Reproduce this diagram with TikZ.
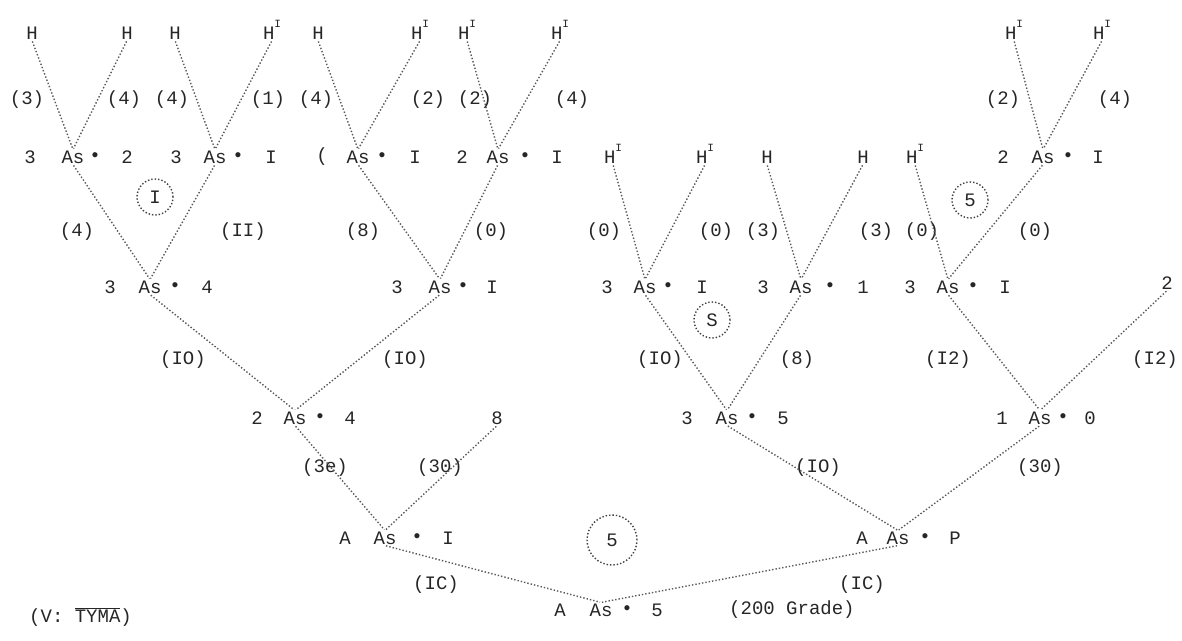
\documentclass[tikz,border=0pt]{standalone}
\usepackage{fontspec}
\setmainfont{Liberation Mono}
\newcommand\HI{H\raisebox{0.6em}{\fontsize{11}{11}\selectfont I}}
\newcommand\tnode[8]{%
  \node[t] (#1p) at (#3,#2) {#4};
  \node[t] (#1) at (#5,#2) {As};
  \node[t] (#1d) at (#6,#2) {•};
  \node[t] (#1s) at (#7,#2) {#8};}
\begin{document}
\begin{tikzpicture}[x=1pt,y=-1pt,
  t/.style={inner sep=1pt, text=black!85, font=\fontsize{19}{21}\selectfont},
  ln/.style={draw=black!65, dotted, line width=1.4pt, shorten <=1pt, shorten >=1pt},
  circ/.style={draw=black!75, dotted, line width=1.4pt, circle, minimum size=36pt, inner sep=2pt, text=black!85, font=\fontsize{19}{21}\selectfont}]
\useasboundingbox (0,0) rectangle (1182,640);
% top leaves
\node[t] (l1) at (32,33) {H};
\node[t] (l2) at (127,33) {H};
\node[t] (l3) at (175,33) {H};
\node[t] (l4) at (272,30) {\HI};
\node[t] (l5) at (318,33) {H};
\node[t] (l6) at (420,30) {\HI};
\node[t] (l7) at (467,30) {\HI};
\node[t] (l8) at (560,30) {\HI};
\node[t] (l9) at (1014,30) {\HI};
\node[t] (l10) at (1102,30) {\HI};
% labels row 1
\node[t] (q1) at (27,100) {(3)};
\node[t] (q2) at (124,100) {(4)};
\node[t] (q3) at (172,100) {(4)};
\node[t] (q4) at (268,100) {(1)};
\node[t] (q5) at (316,100) {(4)};
\node[t] (q6) at (428,100) {(2)};
\node[t] (q7) at (475,100) {(2)};
\node[t] (q8) at (572,100) {(4)};
\node[t] (q9) at (1003,100) {(2)};
\node[t] (q10) at (1115,100) {(4)};
% level A
\tnode{a1}{157}{30}{3}{73}{95}{127}{2}
\tnode{a2}{157}{176}{3}{215}{238}{271}{I}
\tnode{a3}{157}{322}{(}{358}{382}{415}{I}
\tnode{a4}{157}{462}{2}{498}{525}{557}{I}
\tnode{a5}{157}{1003}{2}{1043}{1068}{1098}{I}
\node[t] (h1) at (613,154) {\HI};
\node[t] (h2) at (705,154) {\HI};
\node[t] (h3) at (767,157) {H};
\node[t] (h4) at (863,157) {H};
\node[t] (h5) at (915,154) {\HI};
% labels row 2
\node[t] (r1) at (77,232) {(4)};
\node[circ] (c1) at (155,197) {I};
\node[t] (r2) at (243,232) {(II)};
\node[t] (r3) at (363,232) {(8)};
\node[t] (r4) at (491,232) {(0)};
\node[t] (r5) at (604,232) {(0)};
\node[t] (r6) at (716,232) {(0)};
\node[t] (r7) at (763,232) {(3)};
\node[t] (r8) at (876,232) {(3)};
\node[t] (r9) at (922,232) {(0)};
\node[circ] (c2) at (970,200) {5};
\node[t] (r10) at (1035,232) {(0)};
% level B
\tnode{b1}{287}{110}{3}{150}{175}{207}{4}
\tnode{b2}{287}{397}{3}{440}{463}{492}{I}
\tnode{b3}{287}{607}{3}{645}{668}{702}{I}
\tnode{b4}{287}{763}{3}{801}{830}{863}{1}
\tnode{b5}{287}{910}{3}{948}{973}{1005}{I}
\node[t] (k2) at (1167,283) {2};
% labels row 3
\node[t] (s1) at (183,360) {(IO)};
\node[t] (s2) at (405,360) {(IO)};
\node[t] (s3) at (660,360) {(IO)};
\node[circ] (c3) at (712,320) {S};
\node[t] (s4) at (797,360) {(8)};
\node[t] (s5) at (948,360) {(I2)};
\node[t] (s6) at (1155,360) {(I2)};
% level C
\tnode{cc1}{418}{257}{2}{295}{320}{350}{4}
\node[t] (k8) at (497,418) {8};
\tnode{cc3}{418}{687}{3}{727}{752}{783}{5}
\tnode{cc4}{418}{1002}{1}{1040}{1063}{1090}{0}
% labels row 4
\node[t] (u1) at (325,468) {(3e)};
\node[t] (u2) at (440,468) {(30)};
\node[t] (u3) at (818,468) {(IO)};
\node[t] (u4) at (1040,468) {(30)};
% level D
\tnode{d1}{538}{345}{A}{385}{417}{448}{I}
\tnode{d2}{538}{862}{A}{898}{925}{955}{P}
\node[circ, minimum size=50pt] (c4) at (612,540) {5};
\node[t] (v1) at (436,585) {(IC)};
\node[t] (v2) at (862,585) {(IC)};
% level E
\tnode{e}{610}{560}{A}{601}{627}{657}{5}
\node[t, anchor=west] (g) at (728,610) {(200 Grade)};
\node[t, anchor=west] (tv) at (28,617) {(V: $\overline{\hbox{TYMA}}$)};
% connectors
\foreach \c/\p in {l1/a1,l2/a1,l3/a2,l4/a2,l5/a3,l6/a3,l7/a4,l8/a4,l9/a5,l10/a5,
  a1/b1,a2/b1,a3/b2,a4/b2,h1/b3,h2/b3,h3/b4,h4/b4,h5/b5,a5/b5,
  b1/cc1,b2/cc1,b3/cc3,b4/cc3,b5/cc4,k2/cc4,
  cc1/d1,k8/d1,cc3/d2,cc4/d2,d1/e,d2/e}
  \draw[ln] (\c.south) -- (\p.north);
\end{tikzpicture}
\end{document}
